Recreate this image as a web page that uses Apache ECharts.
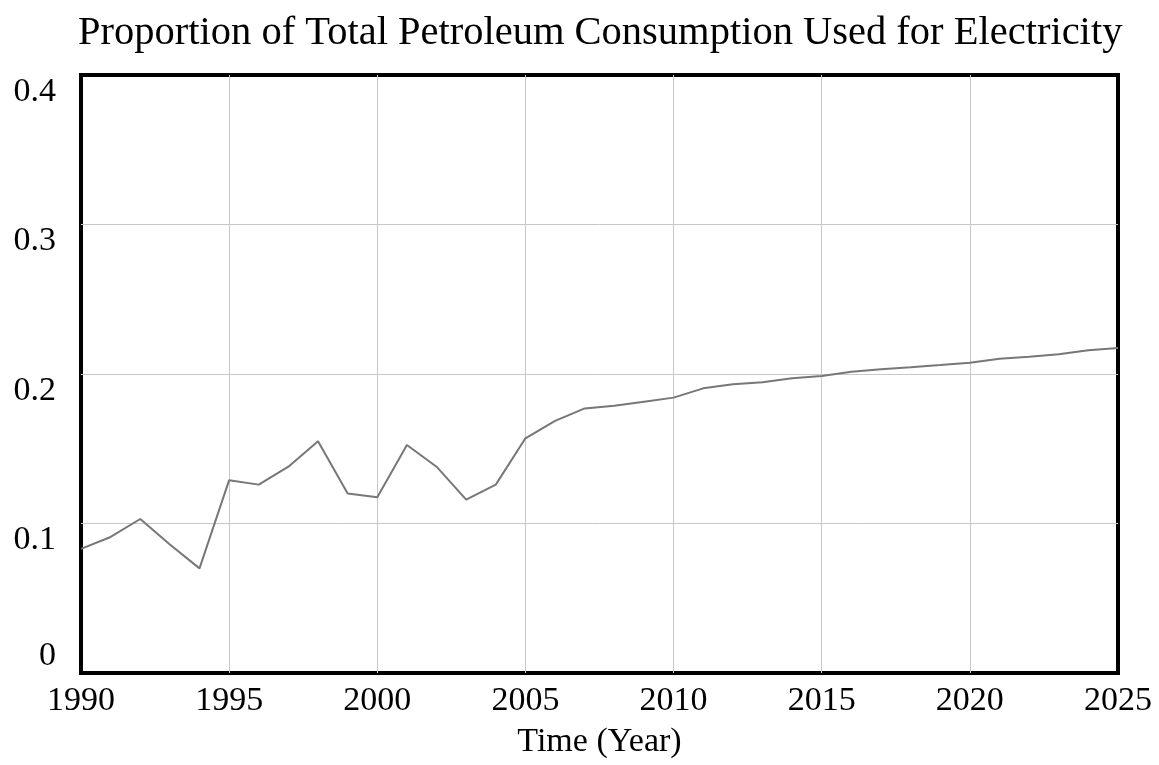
<!DOCTYPE html>
<html>
<head>
<meta charset="utf-8">
<script src="https://cdn.jsdelivr.net/npm/echarts@6/dist/echarts.min.js"></script>
<style>
  html, body { margin: 0; padding: 0; background: #fff; }
  #chart { width: 1159px; height: 765px; }
</style>
</head>
<body>
<div id="chart"></div>
<script>
// data
const years = [1990, 1991, 1992, 1993, 1994, 1995, 1996, 1997, 1998, 1999,
  2000, 2001, 2002, 2003, 2004, 2005, 2006, 2007, 2008, 2009,
  2010, 2011, 2012, 2013, 2014, 2015, 2016, 2017, 2018, 2019,
  2020, 2021, 2022, 2023, 2024, 2025]
const proportion = [0.083, 0.091, 0.103, 0.086, 0.070, 0.129, 0.126, 0.138, 0.155, 0.120,
  0.1175, 0.1525, 0.138, 0.116, 0.126, 0.157, 0.1686, 0.177, 0.1788, 0.1815,
  0.1842, 0.1904, 0.1931, 0.1945, 0.1971, 0.1987, 0.2015, 0.2031, 0.2045, 0.206,
  0.2076, 0.2102, 0.2116, 0.2132, 0.2159, 0.2174]
const yTicks = [0, 0.1, 0.2, 0.3, 0.4]

const font = 'Liberation Serif'
const chart = echarts.init(document.getElementById('chart'))

const option = {
  animation: false,
  title: {
    text: 'Proportion of Total Petroleum Consumption Used for Electricity',
    left: 73,
    top: 8,
    textStyle: { fontFamily: font, fontSize: 40.5, fontWeight: 'normal', color: '#000' }
  },
  grid: {
    left: 81,
    right: 41,
    top: 75,
    bottom: 92,
    show: true,
    borderColor: '#000',
    borderWidth: 4
  },
  xAxis: {
    type: 'value',
    min: 1990,
    max: 2025,
    interval: 5,
    name: 'Time (Year)',
    nameLocation: 'middle',
    nameGap: 52,
    nameTextStyle: { fontFamily: font, fontSize: 34, color: '#000' },
    axisLine: { show: false },
    axisTick: { show: false },
    axisLabel: { fontFamily: font, fontSize: 34, color: '#000', margin: 11, formatter: v => String(v) },
    splitLine: { showMinLine: false, showMaxLine: false, lineStyle: { color: '#c8c8c8', width: 1 } }
  },
  yAxis: [
    {
      type: 'value',
      min: yTicks[0],
      max: yTicks[yTicks.length - 1],
      interval: 0.1,
      axisLine: { show: false },
      axisTick: { show: false },
      axisLabel: {
        fontFamily: font, fontSize: 34, color: '#000', margin: 25,
        verticalAlign: 'top',
        formatter: v => (v === 0 ? '' : String(+v.toFixed(1)))
      },
      splitLine: { showMinLine: false, showMaxLine: false, lineStyle: { color: '#c8c8c8', width: 1 } }
    },
    {
      type: 'value',
      position: 'left',
      min: yTicks[0],
      max: yTicks[yTicks.length - 1],
      interval: 0.1,
      axisLine: { show: false },
      axisTick: { show: false },
      splitLine: { show: false },
      axisLabel: {
        fontFamily: font, fontSize: 34, color: '#000', margin: 25,
        verticalAlign: 'bottom',
        formatter: v => (v === 0 ? '0' : '')
      }
    }
  ],
  series: [
    {
      type: 'line',
      data: years.map((y, i) => [y, proportion[i]]),
      showSymbol: false,
      lineStyle: { color: '#777', width: 2 },
      z: 1
    }
  ]
}

chart.setOption(option)
</script>
</body>
</html>
